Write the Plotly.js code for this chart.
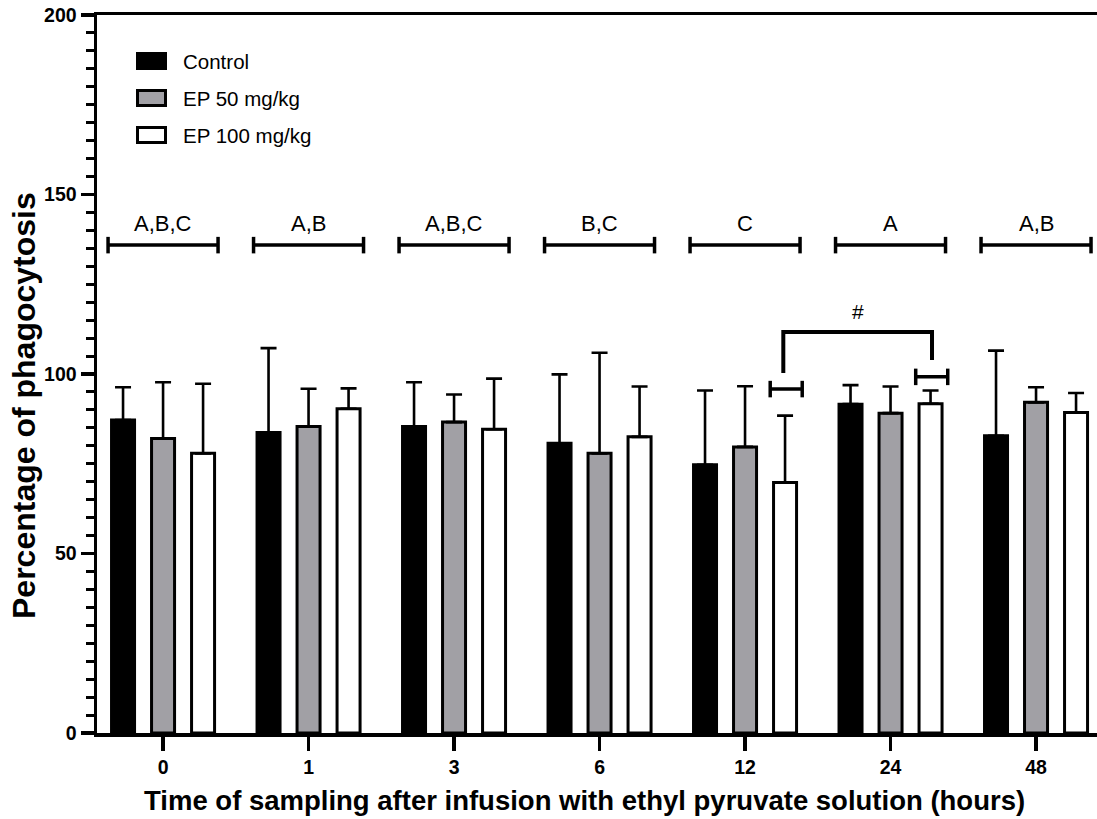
<!DOCTYPE html>
<html>
<head>
<meta charset="utf-8">
<script src="https://cdn.plot.ly/plotly-3.0.1.min.js"></script>
<style>
  html, body { margin: 0; padding: 0; background: #fff; }
  #chart { width: 1097px; height: 819px; }
</style>
</head>
<body>
<div id="chart"></div>
<script>
// Sampling times (hours) after ethyl pyruvate infusion
const times = ['0', '1', '3', '6', '12', '24', '48'];

// Mean percentage of phagocytosis and SD per group
const controlMean = [87.2, 83.7, 85.4, 80.7, 74.7, 91.6, 82.8];
const controlSD   = [9.1, 23.5, 12.3, 19.2, 20.7, 5.3, 23.7];
const ep50Mean    = [82.0, 85.4, 86.6, 77.9, 79.7, 89.1, 92.1];
const ep50SD      = [15.7, 10.5, 7.7, 28.0, 16.9, 7.4, 4.2];
const ep100Mean   = [77.9, 90.3, 84.6, 82.5, 69.8, 91.7, 89.3];
const ep100SD     = [19.4, 5.7, 14.1, 14.0, 18.6, 3.7, 5.4];

// Significance letters shown above each time point
const groupLetters = ['A,B,C', 'A,B', 'A,B,C', 'B,C', 'C', 'A', 'A,B'];
const letterBracketY = 135.9;
const letterTextY = 141.8;

// "#" comparison: EP 100 mg/kg at 12 h vs 24 h
const hashFrom = 4, hashTo = 5;
const hashBarY = 111.7;
const hashLeftFootY = 100.3;
const hashRightFootY = 103.9;
const hashCapY = [95.8, 99.2];

const seriesNames = ['Control', 'EP 50 mg/kg', 'EP 100 mg/kg'];
const seriesFill = ['#000000', '#a1a0a5', '#ffffff'];

const FONT = 'Liberation Sans, Arial, Helvetica, sans-serif';
const zeros = times.map(() => 0);

function barTrace(name, mean, sd, fill) {
  return {
    type: 'bar',
    name: name,
    x: times,
    y: mean,
    marker: { color: fill, line: { color: '#000', width: 3 } },
    error_y: {
      type: 'data', symmetric: false, array: sd, arrayminus: zeros,
      color: '#000', thickness: 2.6, width: 8
    },
    showlegend: false,
    hoverinfo: 'skip'
  };
}

const data = [
  barTrace(seriesNames[0], controlMean, controlSD, seriesFill[0]),
  barTrace(seriesNames[1], ep50Mean, ep50SD, seriesFill[1]),
  barTrace(seriesNames[2], ep100Mean, ep100SD, seriesFill[2])
];

const shapes = [];
const annotations = [];
const lineStyle = { color: '#000', width: 3.5 };

// Letter brackets spanning each time point
const halfSpan = 0.378, capH = 2.3;
groupLetters.forEach((txt, i) => {
  shapes.push({ type: 'line', xref: 'x', yref: 'y', x0: i - halfSpan, x1: i + halfSpan,
                y0: letterBracketY, y1: letterBracketY, line: lineStyle });
  shapes.push({ type: 'line', xref: 'x', yref: 'y', x0: i - halfSpan, x1: i - halfSpan,
                y0: letterBracketY - capH, y1: letterBracketY + capH, line: lineStyle });
  shapes.push({ type: 'line', xref: 'x', yref: 'y', x0: i + halfSpan, x1: i + halfSpan,
                y0: letterBracketY - capH, y1: letterBracketY + capH, line: lineStyle });
  annotations.push({ xref: 'x', yref: 'y', x: i, y: letterTextY, text: txt, showarrow: false,
                     xanchor: 'center', yanchor: 'middle',
                     font: { family: FONT, size: 22, color: '#000' } });
});

// "#" bracket between the EP 100 mg/kg bars at 12 h and 24 h
const whiteOffset = 0.275;
const hx0 = hashFrom + whiteOffset - 0.012, hx1 = hashTo + whiteOffset + 0.01;
const hashStyle = { color: '#000', width: 4 };
shapes.push({ type: 'path', xref: 'x', yref: 'y',
  path: `M ${hx0} ${hashLeftFootY} L ${hx0} ${hashBarY} L ${hx1} ${hashBarY} L ${hx1} ${hashRightFootY}`,
  line: hashStyle });
annotations.push({ xref: 'x', yref: 'y', x: (hx0 + hx1) / 2, y: 117.3, text: '#', showarrow: false,
                   xanchor: 'center', yanchor: 'middle',
                   font: { family: FONT, size: 21, color: '#000' } });
[hashFrom, hashTo].forEach((g, k) => {
  const cx = g + whiteOffset + 0.008, hw = 0.11, cy = hashCapY[k];
  shapes.push({ type: 'line', xref: 'x', yref: 'y', x0: cx - hw, x1: cx + hw, y0: cy, y1: cy, line: lineStyle });
  shapes.push({ type: 'line', xref: 'x', yref: 'y', x0: cx - hw, x1: cx - hw, y0: cy - capH, y1: cy + capH, line: lineStyle });
  shapes.push({ type: 'line', xref: 'x', yref: 'y', x0: cx + hw, x1: cx + hw, y0: cy - capH, y1: cy + capH, line: lineStyle });
});

// Legend (swatches + labels) in the upper-left corner of the plot
const L = 97, T = 15, PW = 1000, PH = 718;
const px = v => (v - L) / PW;
const py = v => (T + PH - v) / PH;
seriesNames.forEach((name, k) => {
  const top = 53.5 + 37 * k, bottom = top + 15;
  shapes.push({ type: 'rect', xref: 'paper', yref: 'paper',
                x0: px(137.5), x1: px(165.5), y0: py(bottom), y1: py(top),
                fillcolor: seriesFill[k], line: { color: '#000', width: 3 } });
  annotations.push({ xref: 'paper', yref: 'paper', x: px(181), y: py(61 + 37 * k),
                     text: name, showarrow: false, xanchor: 'left', yanchor: 'middle',
                     font: { family: FONT, size: 20.5, color: '#000' } });
});

// Axis titles
annotations.push({ xref: 'paper', yref: 'paper', x: px(584), y: py(800),
  text: 'Time of sampling after infusion with ethyl pyruvate solution (hours)',
  showarrow: false, xanchor: 'center', yanchor: 'middle',
  font: { family: FONT, size: 27.5, color: '#000', weight: 'bold' } });
annotations.push({ xref: 'paper', yref: 'paper', x: px(24), y: py(406),
  text: 'Percentage of phagocytosis', textangle: -90,
  showarrow: false, xanchor: 'center', yanchor: 'middle',
  font: { family: FONT, size: 32, color: '#000', weight: 'bold' } });

const layout = {
  width: 1097, height: 819,
  margin: { l: L, r: 0, t: T, b: 819 - T - PH, pad: 0 },
  paper_bgcolor: '#fff', plot_bgcolor: '#fff',
  barmode: 'group', bargap: 0.175, bargroupgap: 0.425,
  showlegend: false,
  xaxis: {
    type: 'category', range: [-0.454, 6.419],
    showgrid: false, zeroline: false,
    showline: true, linecolor: '#000', linewidth: 3.5, mirror: true,
    ticks: 'outside', ticklen: 14, tickwidth: 3.5, tickcolor: '#000',
    tickfont: { family: FONT, size: 19.5, color: '#000', weight: 'bold' }
  },
  yaxis: {
    range: [0, 200], tickvals: [0, 50, 100, 150, 200],
    showgrid: false, zeroline: false,
    showline: true, linecolor: '#000', linewidth: 3.5,
    ticks: 'outside', ticklen: 13, tickwidth: 3.5, tickcolor: '#000',
    minor: { dtick: 5, ticks: 'outside', ticklen: 8, tickwidth: 3, tickcolor: '#000', showgrid: false },
    tickfont: { family: FONT, size: 19.5, color: '#000', weight: 'bold' }
  },
  shapes: shapes,
  annotations: annotations
};

Plotly.newPlot('chart', data, layout, { displayModeBar: false, staticPlot: true });
</script>
</body>
</html>
